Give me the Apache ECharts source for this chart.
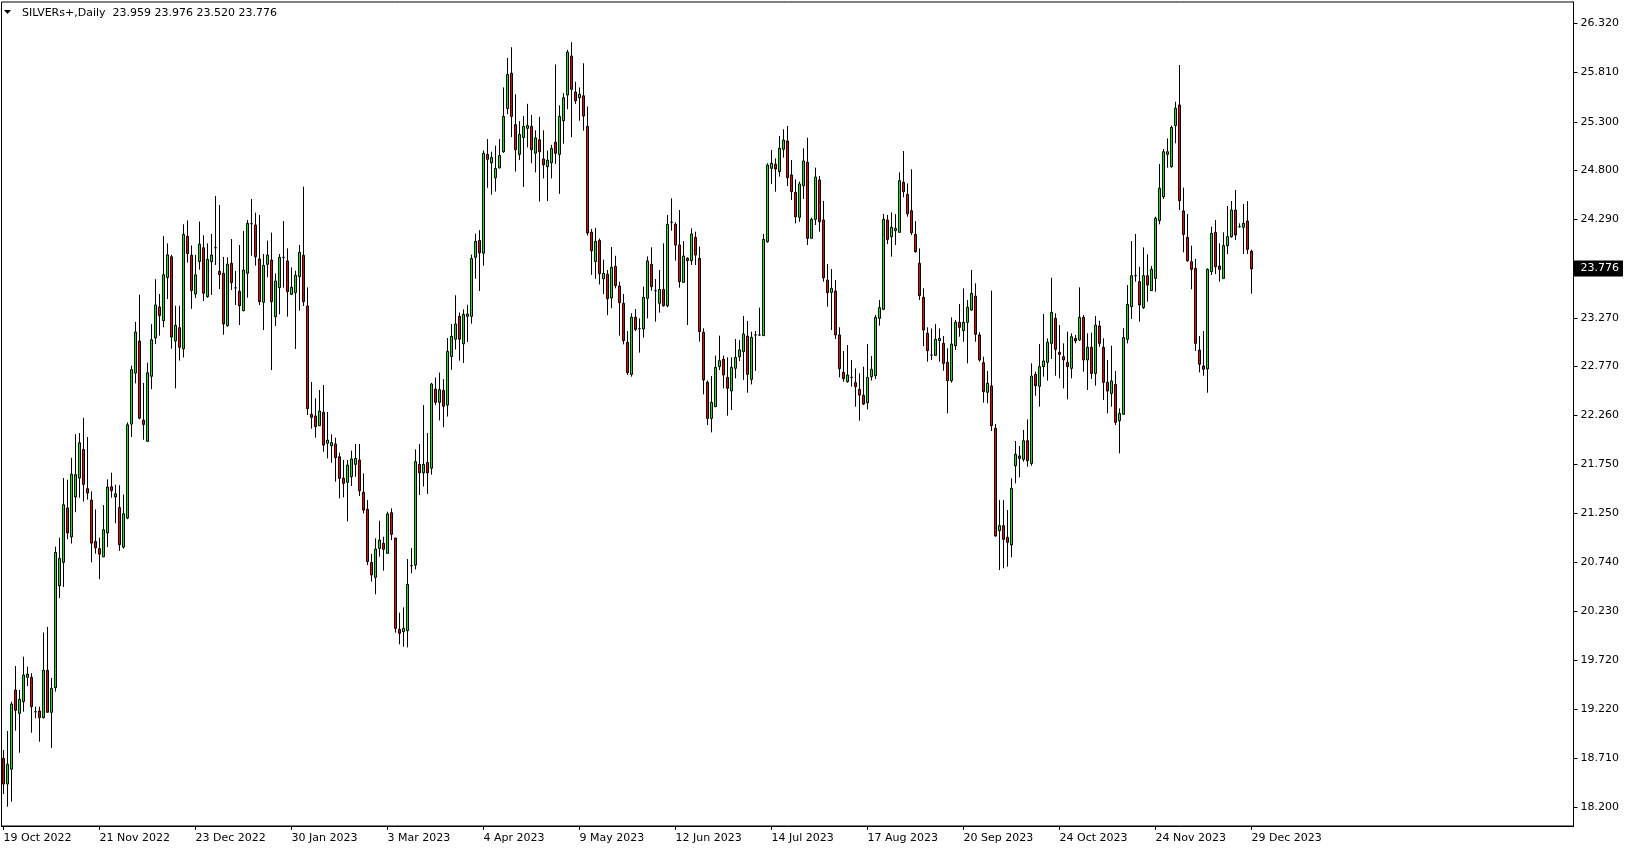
<!DOCTYPE html>
<html><head><meta charset="utf-8">
<script src="https://cdn.jsdelivr.net/npm/echarts@6/dist/echarts.min.js"></script>
<style>html,body{margin:0;padding:0;background:#fff;}#c{width:1629px;height:850px;}</style>
</head><body><div id="c"></div>
<script>
const symbolName = 'SILVERs+,Daily';
const dateLabels = ['19 Oct 2022','21 Nov 2022','23 Dec 2022','30 Jan 2023','3 Mar 2023','4 Apr 2023','9 May 2023','12 Jun 2023','14 Jul 2023','17 Aug 2023','20 Sep 2023','24 Oct 2023','24 Nov 2023','29 Dec 2023'];
const labelEvery = 24;
const priceLabels = ['26.320','25.810','25.300','24.800','24.290','23.270','22.770','22.260','21.750','21.250','20.740','20.230','19.720','19.220','18.710','18.200'];

const opens = [18.707,18.441,18.594,19.415,19.173,19.294,19.546,19.546,19.190,19.197,
19.128,19.619,19.184,19.439,20.494,20.737,21.301,21.001,21.415,21.610,
21.906,21.500,21.382,20.952,20.879,20.794,21.042,21.520,21.415,21.305,
20.895,21.196,22.169,22.697,23.029,22.210,21.991,22.664,23.062,23.382,
23.240,23.687,23.902,23.030,23.167,22.948,24.113,23.918,23.516,23.853,
23.995,23.489,23.851,23.996,23.751,23.731,23.188,23.834,23.580,23.544,
23.344,23.731,24.245,24.231,23.879,23.430,23.824,23.868,23.281,23.582,
23.896,23.858,23.513,23.530,23.696,23.917,23.392,22.270,22.253,22.152,
22.291,21.970,21.945,21.963,21.831,21.607,21.566,21.624,21.752,21.797,
21.462,21.286,20.737,20.582,20.882,20.934,20.830,21.251,20.989,20.043,
20.019,20.029,20.702,20.709,21.752,21.664,21.771,21.712,22.532,22.394,
22.517,22.366,22.869,23.048,23.285,23.000,23.285,23.285,23.896,24.070,
23.939,24.962,24.875,24.720,24.823,24.990,25.438,25.803,25.271,24.962,
25.137,25.232,25.252,24.974,25.113,24.915,24.835,24.875,25.089,24.962,
25.311,25.577,25.981,25.608,25.549,25.569,25.252,24.157,23.852,24.070,
23.674,23.722,23.476,23.801,23.599,23.420,23.016,22.684,23.275,23.157,
23.154,23.471,23.823,23.550,23.420,23.564,23.395,24.259,24.238,24.024,
23.637,23.886,23.862,24.103,23.886,23.119,22.601,22.228,22.349,22.764,
22.840,22.653,22.512,22.747,22.867,22.919,23.081,22.632,23.092,23.092,
23.085,24.058,24.818,24.860,24.783,25.015,25.101,24.749,24.569,24.310,
24.638,24.880,24.093,24.290,24.697,24.283,23.661,23.533,23.547,23.092,
22.705,22.608,22.653,22.598,22.529,22.467,22.390,22.660,22.670,23.264,
23.357,24.283,24.110,24.172,24.155,24.673,24.548,24.379,24.134,23.834,
23.482,23.109,22.884,22.881,23.033,23.005,22.808,22.618,22.981,23.223,
23.137,23.223,23.350,23.495,23.092,22.805,22.498,22.564,22.125,21.065,
21.117,20.996,20.917,21.738,21.839,21.804,21.997,21.762,22.684,22.560,
22.764,22.808,23.005,23.264,22.912,22.867,22.808,22.746,23.057,23.040,
23.274,22.833,22.964,22.694,23.185,22.964,22.601,22.487,22.580,22.204,
22.270,23.047,23.385,23.706,23.644,23.375,23.706,23.551,23.678,24.276,
24.524,24.963,24.835,25.260,25.474,24.376,24.103,23.851,23.782,22.936,
22.771,22.740,23.748,24.155,23.806,23.678,24.017,24.110,24.386,24.214,
24.207,24.272,23.959];

const highs = [18.793,18.990,19.294,19.663,19.415,19.760,19.656,19.588,19.242,19.242,
20.011,20.068,19.540,20.899,20.993,21.610,21.593,21.820,22.064,22.076,
22.234,22.035,21.472,21.285,20.993,21.330,21.597,21.666,21.541,21.536,
21.439,22.186,22.774,23.228,23.508,22.595,22.806,23.204,23.670,23.516,
24.117,24.040,23.922,23.395,23.395,24.238,24.279,24.019,23.922,24.267,
24.125,24.041,24.138,24.531,24.438,23.900,23.896,24.086,23.755,24.024,
24.169,24.283,24.500,24.359,24.335,23.930,24.069,24.152,23.730,23.930,
24.272,23.989,23.792,23.758,24.024,24.628,23.585,22.605,22.436,22.522,
22.574,22.294,22.063,22.028,21.873,21.797,21.797,21.894,21.963,21.963,
21.659,21.383,20.823,20.986,21.168,21.003,21.262,21.296,20.989,20.216,
20.271,20.771,20.886,21.907,21.963,22.366,22.077,22.596,22.651,22.703,
22.635,23.060,23.206,23.503,23.325,23.357,23.404,23.924,24.142,24.177,
25.002,25.121,24.990,25.053,25.121,25.656,25.961,26.072,25.585,25.307,
25.359,25.486,25.371,25.212,25.351,25.212,25.002,25.061,25.894,25.470,
25.597,26.045,26.124,25.715,25.656,25.906,25.458,24.189,24.201,24.090,
23.872,23.765,24.003,23.912,23.644,23.516,23.133,23.316,23.361,23.264,
23.592,23.906,24.000,23.671,23.765,24.041,24.335,24.507,24.259,24.386,
24.065,23.896,24.196,24.162,24.007,23.161,22.619,22.667,22.878,23.085,
22.878,22.860,22.860,23.050,23.040,23.288,23.237,23.126,23.133,23.375,
24.138,24.870,25.008,24.921,25.153,25.222,25.256,24.904,24.704,24.680,
25.025,25.135,24.307,24.825,24.739,24.480,23.827,23.775,23.661,23.171,
22.926,22.988,22.833,22.746,22.694,22.764,22.998,22.874,23.299,23.454,
24.345,24.335,24.362,24.345,24.776,24.997,24.662,24.808,24.272,23.989,
23.575,23.171,23.160,23.205,23.160,23.081,22.954,23.274,23.247,23.413,
23.575,23.454,23.765,23.627,23.120,22.867,22.719,23.551,22.170,21.383,
21.383,21.279,21.607,21.994,21.942,22.108,22.218,22.798,22.712,22.998,
23.309,23.057,23.685,23.316,23.195,23.005,23.126,23.109,23.092,23.585,
23.299,23.109,23.116,23.288,23.240,23.057,22.833,22.981,22.719,22.332,
23.161,23.609,24.065,24.138,23.799,23.999,23.927,23.806,24.317,24.863,
25.018,25.128,25.260,25.508,25.888,24.618,24.345,24.017,23.879,23.081,
23.133,23.782,24.214,24.283,24.041,24.155,24.428,24.479,24.593,24.248,
24.448,24.479,23.976];

const lows = [18.338,18.206,18.258,18.993,18.765,19.190,19.456,18.973,19.122,18.879,
19.120,19.180,18.814,19.398,20.368,20.482,20.977,20.932,21.256,21.407,
21.366,21.387,20.737,20.827,20.563,20.794,20.895,21.407,21.143,20.855,
20.879,21.184,22.035,22.591,22.218,22.007,21.983,22.530,22.997,23.086,
23.171,23.464,22.948,22.539,22.827,22.859,23.841,23.362,23.476,23.768,
23.443,23.478,23.506,23.817,23.568,23.095,23.178,23.558,23.402,23.195,
23.337,23.478,23.913,23.810,23.402,23.143,23.689,22.729,23.185,23.306,
23.582,23.282,23.506,22.947,23.344,23.392,22.263,22.122,22.028,22.152,
21.883,21.814,21.769,21.572,21.400,21.410,21.162,21.528,21.624,21.424,
21.245,20.709,20.537,20.406,20.796,20.651,20.830,20.968,20.009,19.888,
19.863,19.856,20.623,20.664,21.434,21.522,21.446,21.645,22.366,22.207,
22.136,22.247,22.731,22.941,22.826,22.802,23.020,23.210,23.674,23.547,
23.809,24.617,24.546,24.578,24.816,24.978,25.379,25.141,24.784,24.903,
24.625,25.034,24.871,24.776,24.475,24.713,24.479,24.713,24.863,24.554,
25.073,25.430,25.141,25.486,25.311,25.208,24.122,23.714,23.674,23.615,
23.515,23.297,23.369,23.575,23.085,22.995,22.677,22.660,23.133,22.909,
23.064,23.264,23.550,23.230,23.323,23.385,23.378,24.172,23.861,23.582,
23.637,23.195,23.817,23.817,23.023,22.477,22.159,22.083,22.349,22.729,
22.539,22.256,22.315,22.643,22.822,22.626,22.494,22.580,22.719,23.085,
23.085,24.048,24.656,24.576,24.732,24.928,24.635,24.490,24.248,24.265,
24.500,24.024,24.093,24.231,24.162,23.644,23.385,23.143,23.050,22.653,
22.608,22.598,22.557,22.349,22.204,22.367,22.322,22.619,22.636,23.188,
23.350,24.034,23.903,24.024,24.155,24.517,24.317,24.127,23.944,23.454,
22.977,22.815,22.833,22.874,22.815,22.722,22.280,22.598,22.936,23.074,
23.022,22.798,23.344,23.022,22.815,22.391,22.384,22.097,21.003,20.657,
20.675,20.692,20.789,21.555,21.617,21.780,21.728,21.738,22.463,22.350,
22.660,22.619,22.843,22.670,22.643,22.539,22.425,22.643,23.005,23.030,
22.712,22.522,22.636,22.567,22.971,22.418,22.280,22.349,22.159,21.866,
22.270,23.005,23.257,23.644,23.230,23.361,23.437,23.551,23.540,24.238,
24.500,24.825,24.825,25.077,24.386,23.948,23.851,23.565,22.926,22.705,
22.670,22.494,23.713,23.723,23.644,23.678,23.930,24.100,24.075,24.203,
23.930,23.930,23.520];

const closes = [18.441,18.645,19.270,19.204,19.318,19.570,19.580,19.242,19.190,19.128,
19.619,19.184,19.432,20.839,20.778,21.334,21.042,21.650,21.646,21.975,
21.545,21.455,20.936,20.887,20.822,21.074,21.516,21.480,21.447,20.920,
21.240,22.161,22.733,23.123,22.230,22.165,22.701,23.042,23.403,23.293,
23.715,23.922,23.070,23.192,22.965,24.133,23.934,23.553,23.715,24.032,
23.524,23.875,23.920,23.996,23.717,23.206,23.824,23.634,23.580,23.395,
23.765,24.248,24.245,23.903,23.437,23.813,23.920,23.437,23.651,23.896,
23.896,23.541,23.585,23.710,23.948,23.437,22.329,22.239,22.142,22.304,
21.952,22.004,21.977,21.821,21.607,21.555,21.745,21.808,21.814,21.479,
21.279,20.744,20.606,20.875,20.968,20.872,21.238,21.027,20.053,20.002,
20.054,20.509,20.702,21.780,21.664,21.751,21.664,22.584,22.394,22.525,
22.354,22.921,23.079,23.206,23.048,23.305,23.309,23.884,24.062,23.943,
24.974,24.911,24.930,24.816,24.950,25.355,25.791,25.355,25.010,25.168,
25.252,25.260,25.010,25.133,24.990,24.855,24.903,25.022,24.974,25.355,
25.549,26.021,25.636,25.517,25.585,25.359,24.149,23.963,24.062,23.726,
23.730,23.468,23.793,23.603,23.426,23.033,22.701,23.275,23.150,23.157,
23.482,23.858,23.592,23.550,23.564,23.395,24.238,24.259,24.024,23.644,
23.910,23.862,24.138,23.920,23.126,22.626,22.228,22.394,22.757,22.826,
22.677,22.539,22.757,22.860,22.937,23.102,22.684,23.067,23.092,23.092,
24.082,24.852,24.870,24.811,25.025,25.111,24.721,24.576,24.317,24.656,
24.894,24.093,24.290,24.728,24.265,23.685,23.530,23.575,23.092,22.743,
22.639,22.677,22.653,22.557,22.470,22.377,22.653,22.736,23.274,23.375,
24.290,24.082,24.207,24.196,24.690,24.576,24.348,24.151,23.955,23.499,
23.143,22.929,22.884,23.047,23.057,22.798,22.618,22.998,23.223,23.171,
23.223,23.378,23.523,23.099,22.833,22.505,22.591,22.153,21.010,21.117,
20.975,20.944,21.503,21.856,21.814,21.997,21.790,22.667,22.567,22.764,
22.823,23.016,23.326,22.943,22.891,22.833,22.764,23.074,23.030,23.274,
22.833,22.964,22.694,23.195,23.005,22.601,22.511,22.615,22.187,22.280,
23.064,23.409,23.706,23.706,23.402,23.706,23.609,23.772,24.300,24.611,
24.990,24.990,25.242,25.440,24.483,24.134,23.861,23.772,23.005,22.788,
22.736,23.772,24.145,23.799,23.772,24.017,24.110,24.386,24.127,24.214,
24.248,23.979,23.776];

// chart slots (bars + empty right-hand shift area)
const slotCount = 393;
const FONT = '"DejaVu Sans", Verdana, sans-serif';

const slots = [];
for (let i = 0; i < slotCount; i++) slots.push(String(i));
const candles = opens.map((o, i) => [o, closes[i], lows[i], highs[i]]);
const tickVals = priceLabels.map(Number);
const last = opens.length - 1;
const fmt = v => v.toFixed(3);
const titleText = symbolName + '  ' + [opens[last], highs[last], lows[last], closes[last]].map(fmt).join(' ');

const chart = echarts.init(document.getElementById('c'), null, {renderer: 'canvas'});
const showIdx = (idx) => idx % labelEvery === 0 && idx / labelEvery < dateLabels.length;

chart.setOption({
  animation: false,
  backgroundColor: '#ffffff',
  grid: {left: 1.5, right: 55.5, top: 2, bottom: 24, show: true, borderColor: '#000', borderWidth: 1},
  xAxis: {
    type: 'category', data: slots, boundaryGap: true,
    axisLine: {show: true, lineStyle: {color: '#000', width: 1}},
    axisTick: {show: true, alignWithLabel: true, length: 4, interval: showIdx, lineStyle: {color: '#000'}},
    axisLabel: {
      interval: showIdx, align: 'left', margin: 7,
      fontFamily: FONT, fontSize: 11, color: '#000',
      formatter: (val, idx) => dateLabels[Math.round(Number(val) / labelEvery)] || ''
    },
    splitLine: {show: false}
  },
  yAxis: {
    type: 'value', position: 'right', min: 18.0063, max: 26.5406, scale: true,
    axisLine: {show: true, lineStyle: {color: '#000', width: 1}},
    axisTick: {show: true, length: 4, customValues: tickVals, lineStyle: {color: '#000'}},
    axisLabel: {
      customValues: tickVals, margin: 7, fontFamily: FONT, fontSize: 11, color: '#000',
      formatter: v => { const s = priceLabels.find(p => Math.abs(Number(p) - v) < 1e-6); return s || v.toFixed(3); }
    },
    splitLine: {show: false}
  },
  series: [{
    type: 'candlestick',
    data: candles,
    barWidth: 2,
    itemStyle: {
      color: '#00f000', color0: '#f00000',
      borderColor: '#000', borderColor0: '#000', borderColorDoji: '#000', borderWidth: 1
    },
    emphasis: {disabled: true},
    markLine: {
      silent: true, symbol: ['none', 'none'], animation: false,
      lineStyle: {color: 'rgba(0,0,0,0)', width: 0},
      label: {
        show: true, position: 'end', distance: 0,
        formatter: () => fmt(closes[last]),
        backgroundColor: '#000', color: '#fff',
        fontFamily: FONT, fontSize: 11, lineHeight: 12, padding: [2, 4, 2, 7]
      },
      data: [{yAxis: closes[last]}]
    }
  }],
  graphic: [
    {type: 'polygon', shape: {points: [[4, 10], [11, 10], [7.5, 14]]}, style: {fill: '#000'}},
    {type: 'text', x: 22, y: 13, style: {text: titleText, font: '11px ' + FONT, fill: '#000', verticalAlign: 'middle', align: 'left'}}
  ]
});
</script>
</body></html>
